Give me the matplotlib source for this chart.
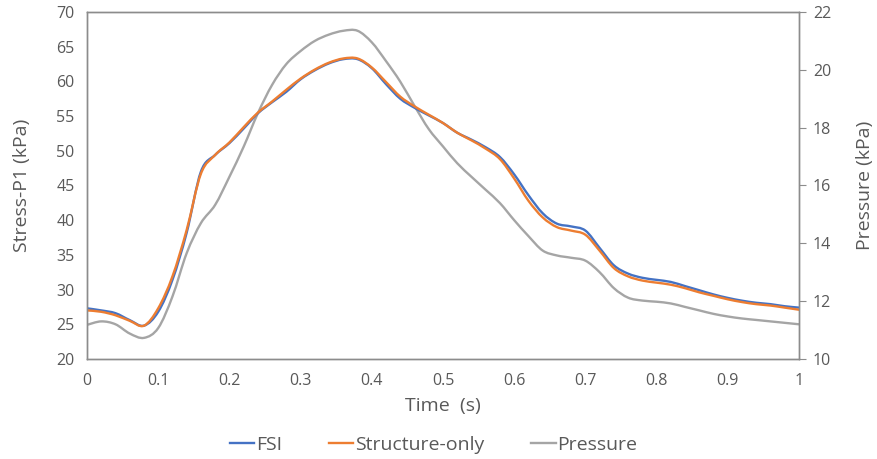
import matplotlib
matplotlib.use("Agg")
import matplotlib.pyplot as plt
from matplotlib.path import Path
from matplotlib.patches import PathPatch
from matplotlib.lines import Line2D

time_s = [0.00, 0.02, 0.04, 0.06, 0.08, 0.10, 0.12, 0.14, 0.16, 0.18,
          0.20, 0.22, 0.24, 0.26, 0.28, 0.30, 0.32, 0.34, 0.36, 0.38,
          0.40, 0.42, 0.44, 0.46, 0.48, 0.50, 0.52, 0.54, 0.56, 0.58,
          0.60, 0.62, 0.64, 0.66, 0.68, 0.70, 0.72, 0.74, 0.76, 0.78,
          0.80, 0.82, 0.84, 0.86, 0.88, 0.90, 0.92, 0.94, 0.96, 0.98, 1.00]

fsi = [27.3, 27.0, 26.6, 25.6, 24.8, 26.8, 31.4, 38.2, 47.0, 49.4,
       51.1, 53.2, 55.4, 57.0, 58.5, 60.3, 61.6, 62.6, 63.2, 63.2,
       61.9, 59.6, 57.5, 56.2, 55.1, 54.0, 52.6, 51.6, 50.5, 49.1,
       46.6, 43.6, 41.0, 39.5, 39.1, 38.5, 36.0, 33.5, 32.3, 31.7,
       31.4, 31.1, 30.5, 29.9, 29.3, 28.8, 28.4, 28.1, 27.9, 27.6, 27.4]

structure_only = [27.0, 26.8, 26.3, 25.5, 24.8, 27.3, 31.9, 38.6, 46.7, 49.4,
                  51.2, 53.4, 55.5, 57.1, 58.8, 60.4, 61.7, 62.7, 63.3, 63.3,
                  62.0, 59.9, 57.8, 56.4, 55.2, 54.0, 52.6, 51.5, 50.3, 48.8,
                  46.0, 42.8, 40.4, 39.0, 38.5, 37.9, 35.6, 33.1, 31.9, 31.3,
                  31.0, 30.7, 30.2, 29.6, 29.1, 28.6, 28.2, 27.9, 27.7, 27.4, 27.1]

pressure = [11.18, 11.30, 11.20, 10.88, 10.73, 11.07, 12.16, 13.66, 14.70, 15.33,
            16.30, 17.34, 18.50, 19.48, 20.20, 20.65, 21.00, 21.22, 21.35, 21.35,
            20.95, 20.30, 19.59, 18.75, 17.95, 17.35, 16.77, 16.30, 15.85, 15.39,
            14.80, 14.25, 13.75, 13.58, 13.50, 13.40, 13.00, 12.45, 12.12, 12.02,
            11.98, 11.92, 11.80, 11.68, 11.56, 11.47, 11.40, 11.35, 11.30, 11.25, 11.20]

x_ticks = [0, 0.1, 0.2, 0.3, 0.4, 0.5, 0.6, 0.7, 0.8, 0.9, 1]
x_ticklabels = ["0", "0.1", "0.2", "0.3", "0.4", "0.5", "0.6", "0.7", "0.8", "0.9", "1"]
left_ticks = [20, 25, 30, 35, 40, 45, 50, 55, 60, 65, 70]
right_ticks = [10, 12, 14, 16, 18, 20, 22]

plt.rcParams['font.family'] = ['Open Sans', 'DejaVu Sans']
text_color = '#595959'
spine_color = '#8c8c8c'


def smooth_line(ax, x, y, color, lw):
    """Excel-style smoothed line: Catmull-Rom segments drawn as cubic Bezier path."""
    n = len(x)
    verts = [(x[0], y[0])]
    codes = [Path.MOVETO]
    for i in range(n - 1):
        i0 = i - 1 if i > 0 else i
        i3 = i + 2 if i + 2 < n else i + 1
        c1 = (x[i] + (x[i + 1] - x[i0]) / 6.0, y[i] + (y[i + 1] - y[i0]) / 6.0)
        c2 = (x[i + 1] - (x[i3] - x[i]) / 6.0, y[i + 1] - (y[i3] - y[i]) / 6.0)
        verts += [c1, c2, (x[i + 1], y[i + 1])]
        codes += [Path.CURVE4] * 3
    patch = PathPatch(Path(verts, codes), fill=False, edgecolor=color, lw=lw,
                      capstyle='round', joinstyle='round')
    ax.add_patch(patch)
    return patch


fig = plt.figure(figsize=(8.78, 4.59), dpi=100)
ax = fig.add_axes([0.0991, 0.2179, 0.8109, 0.756])
ax2 = ax.twinx()

c_fsi, c_str, c_pr = '#4472C4', '#ED7D31', '#A5A5A5'
lw = 1.7
smooth_line(ax2, time_s, pressure, c_pr, lw)
smooth_line(ax, time_s, fsi, c_fsi, lw)
smooth_line(ax, time_s, structure_only, c_str, lw)
ax.set_zorder(ax2.get_zorder() + 1)
ax.patch.set_visible(False)

ax.set_xlim(0, 1)
ax.set_ylim(20, 70)
ax2.set_ylim(10, 22)
ax.set_xticks(x_ticks)
ax.set_xticklabels(x_ticklabels)
ax.set_yticks(left_ticks)
ax2.set_yticks(right_ticks)

for a in (ax, ax2):
    for s in a.spines.values():
        s.set_color(spine_color)
        s.set_linewidth(1.0)

ax.tick_params(axis='both', length=0, labelsize=11.5, labelcolor=text_color)
ax.tick_params(axis='y', pad=9)
ax.tick_params(axis='x', pad=10)
ax2.tick_params(axis='y', length=5, direction='out', color=spine_color,
                labelsize=11.5, labelcolor=text_color, pad=5)

ax.set_xlabel('Time  (s)', fontsize=14, color=text_color, labelpad=6)
ax.set_ylabel('Stress-P1 (kPa)', fontsize=14, color=text_color, labelpad=18)
ax2.set_ylabel('Pressure (kPa)', fontsize=14, color=text_color, labelpad=18)

handles = [Line2D([], [], color=c_fsi, lw=lw, label='FSI'),
           Line2D([], [], color=c_str, lw=lw, label='Structure-only'),
           Line2D([], [], color=c_pr, lw=lw, label='Pressure')]
leg = fig.legend(handles=handles, loc='lower center', bbox_to_anchor=(0.494, -0.027),
                 ncol=3, frameon=False, fontsize=14, handlelength=1.25,
                 handletextpad=0.1, columnspacing=2.4)
for t in leg.get_texts():
    t.set_color(text_color)

fig.savefig('out.png', dpi=100)
